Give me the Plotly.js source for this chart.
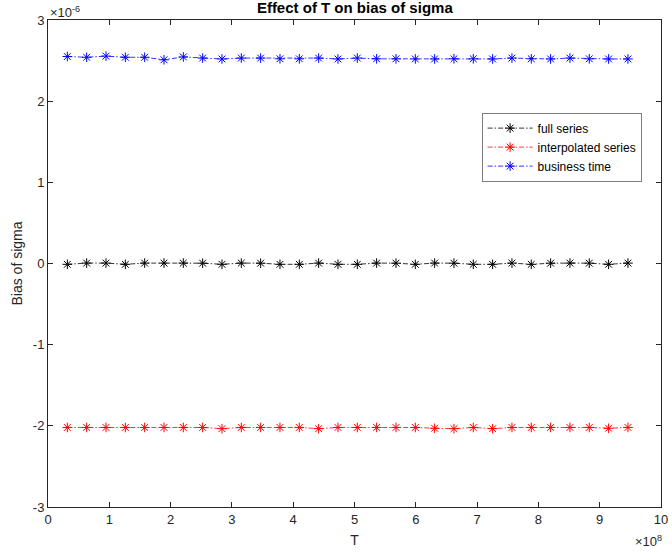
<!DOCTYPE html>
<html>
<head>
<meta charset="utf-8">
<script src="https://cdn.plot.ly/plotly-3.0.1.min.js"></script>
<style>html,body{margin:0;padding:0;background:#fff;}#chart{width:672px;height:553px;}</style>
</head>
<body>
<div id="chart"></div>
<script>
// T values (seconds)
var T = [3.1536e7, 6.3072e7, 9.4608e7, 1.26144e8, 1.5768e8, 1.89216e8, 2.20752e8, 2.52288e8, 2.83824e8, 3.1536e8,
         3.46896e8, 3.78432e8, 4.09968e8, 4.41504e8, 4.7304e8, 5.04576e8, 5.36112e8, 5.67648e8, 5.99184e8, 6.3072e8,
         6.62256e8, 6.93792e8, 7.25328e8, 7.56864e8, 7.884e8, 8.19936e8, 8.51472e8, 8.83008e8, 9.14544e8, 9.4608e8];
// Bias of sigma (x 1e-6)
var fullSeries = [-0.01, 0.005, 0.005, -0.01, 0.005, 0.005, 0.005, 0.004, -0.01, 0.005,
                  0.004, -0.01, -0.01, 0.005, -0.01, -0.01, 0.005, 0.004, -0.01, 0.005,
                  0.004, -0.01, -0.01, 0.005, -0.01, 0.004, 0.005, 0.004, -0.01, 0.005];
var interpolatedSeries = [-2.02, -2.02, -2.02, -2.02, -2.02, -2.02, -2.02, -2.02, -2.035, -2.02,
                          -2.02, -2.02, -2.02, -2.035, -2.02, -2.02, -2.02, -2.02, -2.02, -2.03,
                          -2.035, -2.02, -2.035, -2.02, -2.02, -2.02, -2.02, -2.02, -2.03, -2.02];
var businessTime = [2.55, 2.541, 2.555, 2.541, 2.541, 2.51, 2.545, 2.531, 2.52, 2.531,
                    2.531, 2.522, 2.522, 2.531, 2.52, 2.531, 2.522, 2.522, 2.52, 2.52,
                    2.522, 2.522, 2.52, 2.531, 2.522, 2.52, 2.531, 2.522, 2.52, 2.52];
var seriesNames = ['full series', 'interpolated series', 'business time'];
var seriesColors = ['#000000', '#ff0000', '#0000ff'];
var xTickVals = [0, 1e8, 2e8, 3e8, 4e8, 5e8, 6e8, 7e8, 8e8, 9e8, 1e9];
var xTickText = ['0', '1', '2', '3', '4', '5', '6', '7', '8', '9', '10'];
var yTickVals = [-3e-6, -2e-6, -1e-6, 0, 1e-6, 2e-6, 3e-6];
var yTickText = ['-3', '-2', '-1', '0', '1', '2', '3'];

function scale(arr) { return arr.map(function (v) { return v * 1e-6; }); }
var allY = [fullSeries, interpolatedSeries, businessTime];
var traces = allY.map(function (ys, i) {
  return {
    x: T, y: scale(ys), type: 'scatter', mode: 'lines+markers', name: seriesNames[i],
    line: {color: seriesColors[i], width: 0.8, dash: '5px,2px,1.5px,2px'},
    marker: {symbol: 'asterisk-open', size: 8, color: seriesColors[i], line: {color: seriesColors[i], width: 1}}
  };
});

var axisColor = '#262626';
var font = {family: 'Liberation Sans, Arial, sans-serif', size: 12, color: axisColor};
var layout = {
  width: 672, height: 553,
  margin: {l: 48, r: 11, t: 20, b: 46},
  paper_bgcolor: '#ffffff', plot_bgcolor: '#ffffff',
  font: font,
  showlegend: true,
  title: {text: '<b>Effect of T on bias of sigma</b>', font: {family: 'Liberation Sans, Arial, sans-serif', size: 15, color: '#000'}, x: 0.528, xanchor: 'center', y: 0.996, yanchor: 'top'},
  xaxis: {
    range: [0, 1e9], tickvals: xTickVals, ticktext: xTickText, ticks: 'inside', ticklen: 5, tickwidth: 1, tickcolor: axisColor,
    showline: true, linecolor: axisColor, linewidth: 1, mirror: 'ticks', showgrid: false, zeroline: false,
    tickfont: {size: 13, color: axisColor},
    title: {text: 'T', font: {size: 14, color: axisColor}, standoff: 9}
  },
  yaxis: {
    range: [-3e-6, 3e-6], tickvals: yTickVals, ticktext: yTickText, ticks: 'inside', ticklen: 5, tickwidth: 1, tickcolor: axisColor,
    showline: true, linecolor: axisColor, linewidth: 1, mirror: 'ticks', showgrid: false, zeroline: false,
    tickfont: {size: 13, color: axisColor},
    title: {text: 'Bias of sigma', font: {size: 14, color: axisColor}, standoff: 6}
  },
  legend: {
    x: 0.708, y: 0.809, xanchor: 'left', yanchor: 'top',
    bgcolor: '#ffffff', bordercolor: '#262626', borderwidth: 0.6,
    font: {size: 12, color: '#000'}, tracegroupgap: 0, itemwidth: 45
  },
  annotations: [
    {xref: 'paper', yref: 'paper', x: 0, y: 1, xanchor: 'left', yanchor: 'bottom', showarrow: false,
     text: '\u00d710<sup>-6</sup>', font: {size: 13, color: axisColor}, yshift: -2},
    {xref: 'paper', yref: 'paper', x: 1.005, y: 0, xanchor: 'right', yanchor: 'top', showarrow: false,
     text: '\u00d710<sup>8</sup>', font: {size: 13, color: axisColor}, yshift: -24}
  ]
};
Plotly.newPlot('chart', traces, layout, {displayModeBar: false, staticPlot: true});
</script>
</body>
</html>
